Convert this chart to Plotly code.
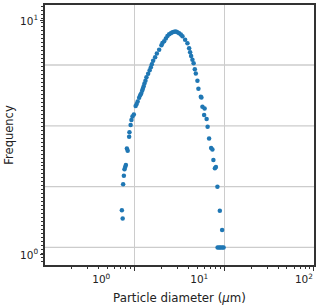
import plotly.graph_objects as go

# Particle diameter (um) and frequency
diameter = [0.720, 0.735, 0.744, 0.758, 0.770, 0.784, 0.798, 0.819, 0.836, 0.868,
            0.875, 0.902, 0.921, 0.945, 0.980, 1.026, 1.053, 1.080, 1.122, 1.152,
            1.182, 1.212, 1.234, 1.260, 1.286, 1.320, 1.354, 1.414, 1.470, 1.516,
            1.555, 1.608, 1.692, 1.768, 1.876, 1.990, 2.041, 2.133, 2.228, 2.321,
            2.424, 2.533, 2.639, 2.756, 2.880, 3.000, 3.134, 3.274, 3.412, 3.656,
            3.879, 4.052, 4.157, 4.265, 4.410, 4.548, 4.690, 4.812, 5.013, 5.143,
            5.470, 5.556, 5.701, 6.031, 5.954, 6.349, 6.514, 6.769, 7.125, 7.367,
            7.557, 7.855, 8.060, 8.378, 8.909, 9.452, 8.42, 8.75, 9.09, 9.45, 9.82]
frequency = [1.552, 1.431, 2.003, 2.181, 2.322, 2.375, 2.422, 2.848, 2.787, 3.198,
             3.340, 3.588, 3.770, 3.908, 3.978, 4.324, 4.410, 4.520, 4.701, 4.818,
             4.890, 5.036, 5.136, 5.264, 5.405, 5.556, 5.750, 5.951, 6.160, 6.345,
             6.535, 6.763, 7.000, 7.259, 7.534, 7.875, 8.055, 8.191, 8.411, 8.630,
             8.775, 8.862, 8.950, 8.994, 9.012, 8.950, 8.862, 8.750, 8.603, 8.313,
             8.033, 7.647, 7.353, 7.089, 6.830, 6.600, 6.220, 5.964, 5.556, 5.136,
             4.739, 4.711, 4.295, 4.228, 3.959, 3.806, 3.528, 3.148, 2.862, 2.820,
             2.544, 2.344, 2.375, 1.957, 1.546, 1.279, 1.075, 1.075, 1.075, 1.075, 1.075]

x_ticks = [1, 10, 100]
x_ticklabels = ["10<sup>0</sup>", "10<sup>1</sup>", "10<sup>2</sup>"]
x_label_pad = [20, 15, 6]   # reference draws x tick labels left of their ticks
x_minor = [m * 10 ** e for e in (-1, 0, 1) for m in range(2, 10)]
y_ticks = [1, 10]
y_ticklabels = ["10<sup>0</sup>", "10<sup>1</sup>"]
y_grid = [1.077, 1.96, 3.56, 6.48]
y_minor = [round(0.9 * 1.04 ** k, 4) for k in range(66)]

FONT = "DejaVu Sans"
AX = "#333333"
GRID = "#cccccc"

x_ticktext = [t + "\u00a0" * p for t, p in zip(x_ticklabels, x_label_pad)]

fig = go.Figure()
fig.add_trace(go.Scatter(x=diameter, y=frequency, mode="markers",
                         marker=dict(color="#1f77b4", size=4.5, line=dict(width=0)),
                         showlegend=False))

for g in y_grid:
    fig.add_shape(type="line", xref="paper", x0=0, x1=1, yref="y", y0=g, y1=g,
                  line=dict(color=GRID, width=1.3), layer="below")

fig.update_layout(
    width=320, height=308,
    margin=dict(l=45, r=6, t=5, b=43, autoexpand=False),
    paper_bgcolor="white", plot_bgcolor="white",
    font=dict(family=FONT, size=10.5, color="#222"),
    xaxis=dict(type="log", range=[-1, 2.0005], tickvals=x_ticks, ticktext=x_ticktext,
               ticklabeloverflow="allow",
               showgrid=True, gridcolor=GRID, gridwidth=1.3,
               ticks="outside", ticklen=4, tickcolor=AX, tickwidth=1,
               minor=dict(tickvals=x_minor, ticks="outside", ticklen=2.5, tickcolor=AX, showgrid=False),
               showline=True, linecolor=AX, linewidth=1.5, mirror=True,
               zeroline=False, automargin=False,
               title=dict(text="Particle diameter (<i>μ</i>m)", standoff=9,
                          font=dict(size=11.8))),
    yaxis=dict(type="log", range=[-0.043, 1.068], tickvals=y_ticks, ticktext=y_ticklabels,
               showgrid=False, ticks="outside", ticklen=3, tickcolor=AX, tickwidth=1,
               minor=dict(tickvals=y_minor, ticks="outside", ticklen=2, tickcolor=AX, showgrid=False),
               showline=True, linecolor=AX, linewidth=1.5, mirror=True,
               zeroline=False, automargin=False,
               title=dict(text="Frequency", standoff=4, font=dict(size=11.5))),
)
fig.write_html("out.html", config={"displayModeBar": False},
               post_script="document.body.style.margin='0';")
